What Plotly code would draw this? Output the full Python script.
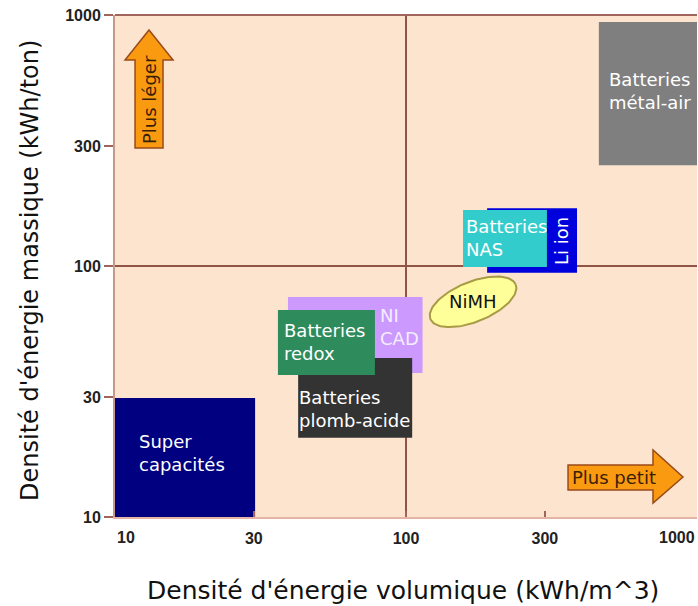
import numpy as np
import plotly.graph_objects as go

W, H = 698, 606
ML, MR, MT, MB = 115, 1, 15, 89
PW, PH = W - ML - MR, H - MT - MB

# ---------------- data ----------------
x_ticks = [30, 100, 300]
x_tick_text = ["30", "100", "300"]
x_edge_labels = ["10", "1000"]
y_ticks = [10, 30, 100, 300, 1000]
y_tick_text = ["10", "30", "100", "300", "1000"]

tech_names = ["Super capacités", "Ni CAD", "Batteries plomb-acide", "Batteries redox",
              "Li ion", "Batteries NAS", "Batteries métal-air"]
x_low = [10, 39.3, 42.6, 36.3, 190, 157, 460]
x_high = [30.3, 114, 105, 78.2, 387, 305, 1000]
y_low = [10, 37.5, 20.7, 36.8, 94, 99, 252]
y_high = [29.8, 75.2, 43, 66.8, 170, 167, 938]
box_colors = ["#000080", "#CC99FF", "#333333", "#2E8B5C", "#0000DD", "#33CCCC", "#7F7F7F"]
box_labels = ["Super<br>capacités", "NI<br>CAD", "Batteries<br>plomb-acide", "Batteries<br>redox",
              "Li ion", "Batteries<br>NAS", "Batteries<br>métal-air"]
label_x = [11.9, 80.2, 42.2, 37.5, 344, 158, 689]
label_y = [18, 57.1, 26.9, 49.8, 126, 129, 498]
label_anchor = ["left", "left", "left", "left", "center", "left", "center"]
label_angle = [0, 0, 0, 0, -90, 0, 0]
label_colors = ["white", "#F4ECFF", "white", "white", "white", "white", "white"]

nimh_name = "NiMH"
nimh_x = 170
nimh_y = 72
nimh_semi_axes_px = (46, 20)
nimh_tilt_deg = 22


# reference pixel positions (page coords) of decorations -> paper coords
def px2paper(pts):
    return [((px - ML) / PW, (MT + PH - py) / PH) for px, py in pts]


# ---------------- figure ----------------
grid_col = "#8E5446"
fig = go.Figure()

# NiMH ellipse (computed around its centre in log space)
t = np.linspace(0, 2 * np.pi, 120)
a, b = nimh_semi_axes_px
th = np.radians(nimh_tilt_deg)
dx = a * np.cos(t) * np.cos(th) - b * np.sin(t) * np.sin(th)
dy = a * np.cos(t) * np.sin(th) + b * np.sin(t) * np.cos(th)
ex = 10 ** (np.log10(nimh_x) + dx / (PW / 2))
ey = 10 ** (np.log10(nimh_y) + dy / (PH / 2))
fig.add_trace(go.Scatter(x=ex, y=ey, mode="lines", fill="toself",
                         fillcolor="#FFFF99", line=dict(color="#A89B45", width=2),
                         hoverinfo="skip", showlegend=False))

shapes = [
    dict(type="line", xref="x", yref="paper", x0=100, x1=100, y0=0, y1=1,
         line=dict(color=grid_col, width=2), layer="below"),
    dict(type="line", xref="paper", yref="y", x0=0, x1=1, y0=100, y1=100,
         line=dict(color=grid_col, width=2), layer="below"),
]
for x0, x1, y0, y1, c in zip(x_low, x_high, y_low, y_high, box_colors):
    shapes.append(dict(type="rect", xref="x", yref="y", x0=x0, x1=x1, y0=y0, y1=y1,
                       fillcolor=c, line=dict(width=0), layer="below"))

# top border
shapes.append(dict(type="line", xref="paper", yref="paper", x0=0, x1=1, y0=1, y1=1,
                   line=dict(color="#A0645A", width=2)))


def path_from(pts):
    p = px2paper(pts)
    return "M " + " L ".join(f"{x:.4f},{y:.4f}" for x, y in p) + " Z"


up_arrow = [(135, 148), (163, 148), (163, 60), (173, 60), (149, 30), (125, 60), (135, 60)]
right_arrow = [(568, 465), (653, 465), (653, 450), (683, 477), (653, 503), (653, 490), (568, 490)]
for pts in (up_arrow, right_arrow):
    shapes.append(dict(type="path", xref="paper", yref="paper", path=path_from(pts),
                       fillcolor="#FA9A10", line=dict(color="#9B4A1A", width=1.5)))

annotations = []
for lx, ly, txt, anc, ang, col in zip(label_x, label_y, box_labels, label_anchor,
                                      label_angle, label_colors):
    annotations.append(dict(x=np.log10(lx), y=np.log10(ly), xref="x", yref="y",
                            text=txt, showarrow=False, xanchor=anc, yanchor="middle",
                            align=anc if anc != "center" else "left", textangle=ang,
                            font=dict(family="DejaVu Sans", size=18, color=col)))
annotations.append(dict(x=np.log10(nimh_x), y=np.log10(nimh_y), xref="x", yref="y",
                        text=nimh_name, showarrow=False, xanchor="center", yanchor="middle",
                        font=dict(family="DejaVu Sans", size=18, color="#111111")))

# arrow labels
(ux, uy), = px2paper([(150, 100)])
annotations.append(dict(x=ux, y=uy, xref="paper", yref="paper", text="Plus léger",
                        showarrow=False, textangle=-90, xanchor="center", yanchor="middle",
                        font=dict(family="DejaVu Sans", size=18, color="#3A1E08")))
(rx, ry), = px2paper([(614, 477)])
annotations.append(dict(x=rx, y=ry, xref="paper", yref="paper", text="Plus petit",
                        showarrow=False, xanchor="center", yanchor="middle",
                        font=dict(family="DejaVu Sans", size=18, color="#3A1E08")))

# x edge tick labels
tick_font = dict(family="Liberation Sans, Arial", size=16, color="#222222", weight="bold")
(lx0, ly0), = px2paper([(115, 537)])
annotations.append(dict(x=0, y=ly0, xref="paper", yref="paper", text=x_edge_labels[0],
                        showarrow=False, xanchor="left", yanchor="middle", font=tick_font))
annotations.append(dict(x=1, y=ly0, xref="paper", yref="paper", text=x_edge_labels[1],
                        showarrow=False, xanchor="right", yanchor="middle", font=tick_font))

# axis titles
(tx, ty), = px2paper([(403, 590)])
annotations.append(dict(x=tx, y=ty, xref="paper", yref="paper",
                        text="Densité d'énergie volumique (kWh/m^3)", showarrow=False,
                        xanchor="center", yanchor="middle",
                        font=dict(family="DejaVu Sans", size=25, color="#111111")))
(vx, vy), = px2paper([(30, 271)])
annotations.append(dict(x=vx, y=vy, xref="paper", yref="paper",
                        text="Densité d'énergie massique (kWh/ton)", showarrow=False,
                        textangle=-90, xanchor="center", yanchor="middle",
                        font=dict(family="DejaVu Sans", size=24, color="#111111")))

fig.update_layout(
    width=W, height=H,
    margin=dict(l=ML, r=MR, t=MT, b=MB, autoexpand=False),
    paper_bgcolor="white", plot_bgcolor="#FDE4CE",
    showlegend=False,
    shapes=shapes, annotations=annotations,
    xaxis=dict(type="log", range=[1, 3], tickvals=x_ticks, ticktext=x_tick_text,
               showgrid=False, zeroline=False, ticks="inside", ticklen=6,
               tickcolor="#A0645A", tickwidth=2, showline=True, linecolor="#E6B4A6",
               linewidth=2, tickfont=tick_font, ticklabelstandoff=6, fixedrange=True),
    yaxis=dict(type="log", range=[1, 3], tickvals=y_ticks, ticktext=y_tick_text,
               showgrid=False, zeroline=False, ticks="outside", ticklen=9,
               tickcolor="#A0645A", tickwidth=2, showline=True, linecolor="#C49A8A",
               linewidth=2, tickfont=tick_font, fixedrange=True),
)

fig.write_html("out.html", config={"displayModeBar": False},
               post_script="document.body.style.margin='0';document.body.style.overflow='hidden';")
